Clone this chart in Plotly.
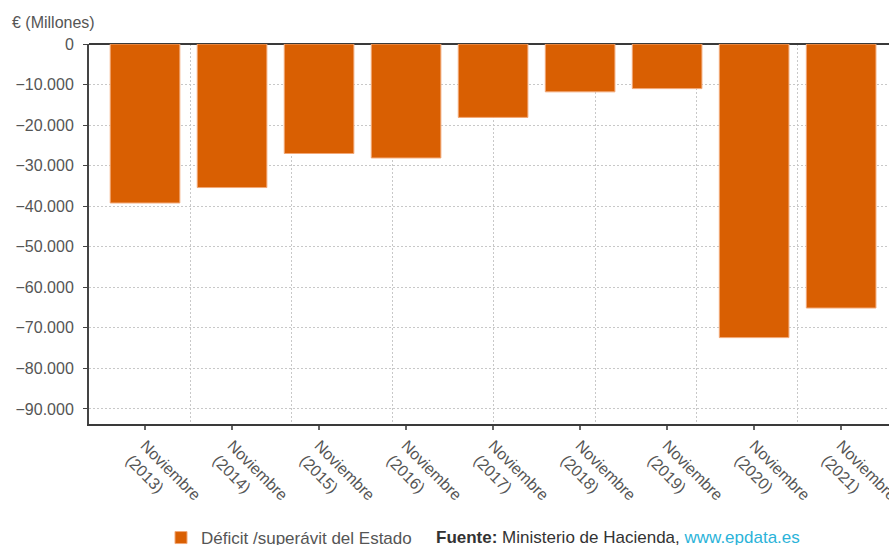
import plotly.graph_objects as go

# Déficit / superávit del Estado, datos de noviembre de cada año (millones de euros)
years = ["2013", "2014", "2015", "2016", "2017", "2018", "2019", "2020", "2021"]
month_label = "Noviembre"
deficit = [-39200, -35400, -27000, -28100, -18100, -11800, -11000, -72400, -65100]
y_ticks = [0, -10000, -20000, -30000, -40000, -50000, -60000, -70000, -80000, -90000]

series_name = "Déficit /superávit del Estado"
bar_color = "#D95F02"
text_color = "#555555"
axis_color = "#3a3a3a"
grid_color = "#c8c8c8"
font_family = "Liberation Sans, Arial, sans-serif"

positions = list(range(len(years)))
tick_text = [f"{month_label}<br>({y})" for y in years]

x_range = [-0.644, 8.55]
# vertical guide lines of the chart grid (independent of the category ticks)
grid_x = [0.517 + 1.1644 * k for k in range(9)]

fig = go.Figure()
fig.add_trace(go.Bar(
    x=positions,
    y=deficit,
    width=0.8,
    name=series_name,
    marker=dict(color=bar_color, line=dict(color="#f2a877", width=1)),
    showlegend=True,
))
# empty helper trace carrying the overlay axis for the vertical grid
fig.add_trace(go.Scatter(
    x=[grid_x[0]], y=[0], xaxis="x2", mode="markers",
    marker=dict(opacity=0), showlegend=False, hoverinfo="skip",
))

fig.update_layout(
    width=889,
    height=545,
    margin=dict(l=89, r=0, t=44, b=121),
    paper_bgcolor="white",
    plot_bgcolor="white",
    separators=",.",
    font=dict(family=font_family, size=16, color=text_color),
    bargap=0.2,
    xaxis=dict(
        range=x_range,
        automargin=False,
        tickmode="array",
        tickvals=positions,
        ticktext=tick_text,
        tickangle=45,
        ticklabeloverflow="allow",
        showgrid=False,
        showline=True,
        linecolor=axis_color,
        linewidth=2,
        ticks="outside",
        ticklen=4,
        tickwidth=2,
        tickcolor="#666666",
        tickfont=dict(size=16, color=text_color),
        zeroline=False,
    ),
    xaxis2=dict(
        overlaying="x",
        range=x_range,
        automargin=False,
        tickmode="array",
        tickvals=grid_x,
        showticklabels=False,
        ticks="",
        showgrid=True,
        gridcolor=grid_color,
        griddash="2px,2px",
        gridwidth=1,
        showline=False,
        zeroline=False,
    ),
    yaxis=dict(
        range=[-93700, 0],
        automargin=False,
        tickmode="array",
        tickvals=y_ticks,
        tickformat=",d",
        showgrid=True,
        gridcolor=grid_color,
        griddash="2px,2px",
        gridwidth=1,
        showline=True,
        linecolor="#444444",
        linewidth=2,
        ticks="outside",
        ticklen=4,
        tickcolor="#444444",
        ticklabelstandoff=6,
        tickfont=dict(size=16, color=text_color),
        zeroline=True,
        zerolinecolor=axis_color,
        zerolinewidth=2,
    ),
    legend=dict(
        orientation="h",
        xref="container",
        yref="container",
        x=161 / 889,
        xanchor="left",
        y=1 - 520 / 545,
        yanchor="top",
        font=dict(size=17, color=text_color),
        bgcolor="rgba(0,0,0,0)",
        itemclick=False,
    ),
    annotations=[
        dict(
            text="€ (Millones)",
            xref="paper", yref="paper",
            x=(10 - 89) / 800, y=(424 - 23) / 380,
            xanchor="left", yanchor="middle",
            showarrow=False,
            font=dict(size=16, color=text_color),
        ),
        dict(
            text="<b>Fuente:</b> Ministerio de Hacienda, "
                 "<span style='color:#2bb3d9'>www.epdata.es</span>",
            xref="paper", yref="paper",
            x=(434 - 89) / 800, y=(424 - 537) / 380,
            xanchor="left", yanchor="middle",
            showarrow=False,
            font=dict(size=17, color="#333333"),
        ),
    ],
)

fig.write_html("out.html")
